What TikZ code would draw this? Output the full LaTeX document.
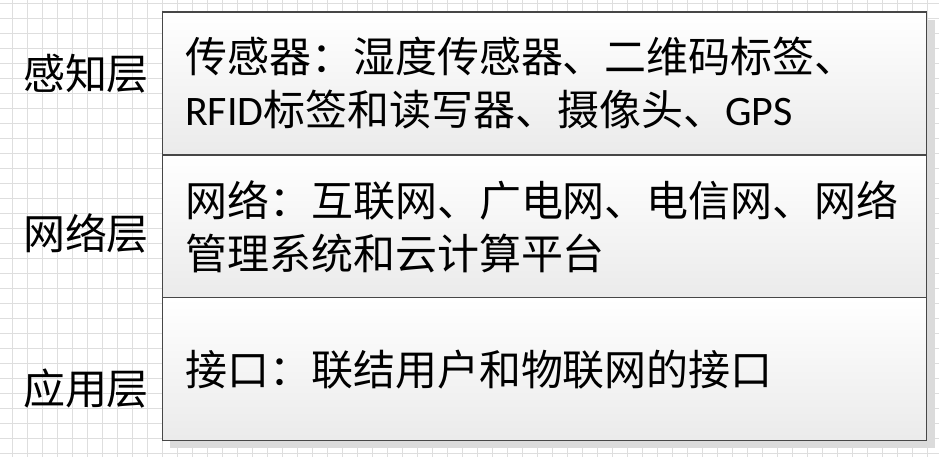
\documentclass[tikz,border=0pt]{standalone}
\usepackage{fontspec}
\setmainfont{Noto Sans CJK SC}
\newfontfamily\latin{Carlito}
\usetikzlibrary{positioning,shadows}

\begin{document}
\begin{tikzpicture}[x=0.02cm,y=-0.02cm,
font=\fontsize{23.9pt}{30.2pt}\selectfont,
gridline/.style={black!13,line width=0.4pt},
layer/.style={
rectangle,
draw=black!72,
line width=0.6pt,
outer sep=0pt,
top color=white,
bottom color=black!8,
minimum width=15.3cm,
minimum height=2.86cm,
text width=14.38cm,
align=left,
drop shadow={fill=black!14,opacity=1,shadow xshift=0.16cm,shadow yshift=-0.15cm}
},
tier/.style={inner sep=0pt}
]
\useasboundingbox (0,0) rectangle (939,457);
% background grid
\foreach \x in {12.7,27.7,...,939} \draw[gridline] (\x,0) -- (\x,457);
\foreach \y in {3.3,18.3,...,457} \draw[gridline] (0,\y) -- (939,\y);

\node (sense) [layer] at (544.5,83.5) {传感器：湿度传感器、二维码标签、\\{\latin RFID}标签和读写器、摄像头、{\latin GPS}};
\node (net) [layer,below=0cm of sense] {网络：互联网、广电网、电信网、网络\\管理系统和云计算平台};
\node (app) [layer,below=0cm of net] {接口：联结用户和物联网的接口};

\node (sensename) [tier] at (86,74) {感知层};
\node (netname) [tier] at (86,233) {网络层};
\node (appname) [tier] at (86,389) {应用层};
\end{tikzpicture}
\end{document}
